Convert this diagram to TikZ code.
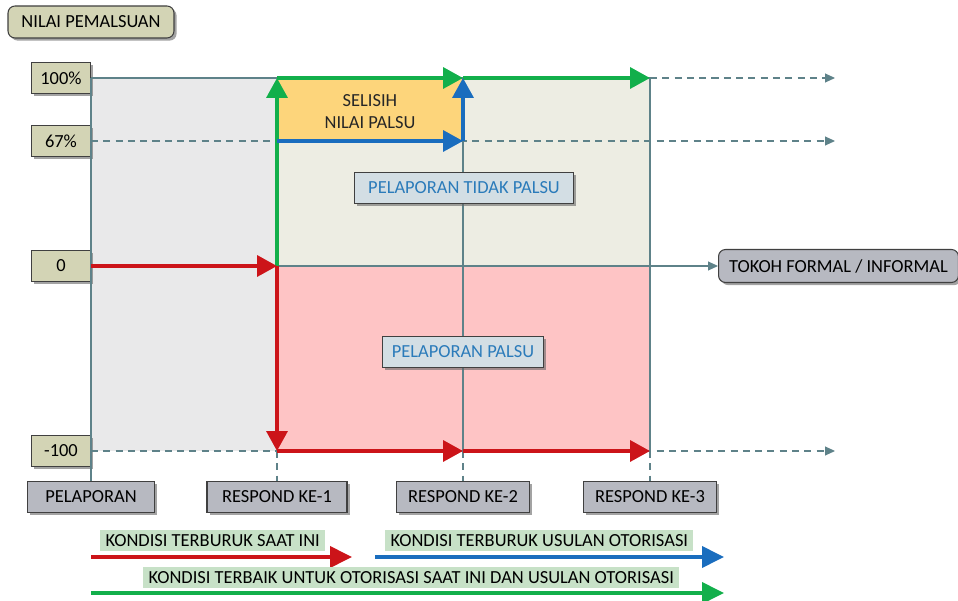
\documentclass[tikz,border=0pt]{standalone}
\usepackage{fontspec}
\setmainfont{Carlito}
\usetikzlibrary{arrows.meta, shadows}

\definecolor{olivebox}{HTML}{D3D4B5}
\definecolor{greybox}{HTML}{B7B9C1}
\definecolor{infobox}{HTML}{D3DEE4}
\definecolor{infotext}{HTML}{2B7BBA}
\definecolor{gridgrey}{HTML}{5E8289}
\definecolor{zonegrey}{HTML}{E9E9EA}
\definecolor{zonebeige}{HTML}{EDEDE3}
\definecolor{zoneorange}{HTML}{FDD57B}
\definecolor{zonepink}{HTML}{FEC4C5}
\definecolor{redline}{HTML}{CC1419}
\definecolor{greenline}{HTML}{12AF4B}
\definecolor{blueline}{HTML}{1A6DBE}
\definecolor{legendfill}{HTML}{C7E1C7}

\begin{document}
\begin{tikzpicture}[x=0.02cm, y=-0.02cm, font=\fontsize{10.5}{12.5}\selectfont,
    box/.style={draw=black!75, line width=0.6pt, inner sep=0pt, minimum height=0.63cm,
        drop shadow={shadow xshift=1.5pt, shadow yshift=-1.5pt, fill=black!60, opacity=0.6}},
    valuebox/.style={box, fill=olivebox, minimum width=1.18cm},
    stagebox/.style={box, fill=greybox},
    zonelabel/.style={box, fill=infobox, text=infotext},
    gridline/.style={draw=gridgrey, line width=0.6pt},
    griddash/.style={gridline, dash pattern=on 4pt off 3pt},
    gridtip/.style={-{Triangle[length=0.2cm, width=0.18cm]}},
    flow/.style={line width=2pt, -{Triangle[length=0.4cm, width=0.42cm]}},
    legendflow/.style={line width=2.2pt, -{Triangle[length=0.44cm, width=0.42cm]}},
    legendtext/.style={fill=legendfill, inner xsep=3pt, inner ysep=0pt, minimum height=0.42cm},
]
    \useasboundingbox (0,0) rectangle (958,601);

    % zones
    \fill[zonegrey] (91,78) rectangle (277,451);
    \fill[zonebeige] (277,78) rectangle (650,266);
    \fill[zoneorange] (277,78) rectangle (463,141);
    \fill[zonepink] (277,266) rectangle (650,451);

    % points of the chart
    \coordinate (s0top) at (91,78);
    \coordinate (s1top) at (277,78);
    \coordinate (s1mid) at (277,141);
    \coordinate (s1zero) at (277,266);
    \coordinate (s1bot) at (277,451);
    \coordinate (s2top) at (463,78);
    \coordinate (s2mid) at (463,141);
    \coordinate (s2bot) at (463,451);
    \coordinate (s3top) at (650,78);
    \coordinate (s3bot) at (650,451);
    \coordinate (e100) at (835,78);
    \coordinate (e67) at (835,141);
    \coordinate (em100) at (835,451);

    % boxes
    \node[box, fill=olivebox, rounded corners=4pt, minimum width=3.32cm, minimum height=0.64cm] (title) at (91,22) {NILAI PEMALSUAN};

    \node[valuebox, anchor=east] (v100) at (91,78) {100\%};
    \node[valuebox, anchor=east] (v67) at (91,141) {67\%};
    \node[valuebox, anchor=east] (v0) at (91,266) {0};
    \node[valuebox, anchor=east] (vm100) at (91,451) {-100};

    \node[stagebox, minimum width=2.54cm] (pelaporan) at (91,497) {PELAPORAN};
    \node[stagebox, minimum width=2.8cm] (resp1) at (277,497) {RESPOND KE-1};
    \node[stagebox, minimum width=2.66cm] (resp2) at (463,497) {RESPOND KE-2};
    \node[stagebox, minimum width=2.66cm] (resp3) at (650,497) {RESPOND KE-3};

    \node[box, fill=greybox, rounded corners=4pt, anchor=west, minimum width=4.8cm, minimum height=0.66cm] (tokoh) at (718,266) {TOKOH FORMAL / INFORMAL};

    % grid lines
    \draw[gridline] (v100.east) -- (s3top);
    \draw[griddash, gridtip] (s3top) -- (e100);
    \draw[griddash, gridtip] (v67.east) -- (e67);
    \draw[gridline, gridtip] (v0.east) -- (tokoh.west);
    \draw[griddash, gridtip] (vm100.east) -- (em100);

    \draw[gridline] (s0top) -- (pelaporan.north);
    \draw[gridline] (s2top) -- (s2bot);
    \draw[gridline] (s3top) -- (s3bot);
    \draw[griddash] (s1bot) -- (resp1.north);
    \draw[griddash] (s2bot) -- (resp2.north);
    \draw[griddash] (s3bot) -- (resp3.north);

    % zone labels
    \node[align=center, text=black!85] (selisih) at (370,112) {SELISIH\\NILAI PALSU};
    \node[zonelabel, minimum width=4.38cm] (tidakpalsu) at (464,188) {PELAPORAN TIDAK PALSU};
    \node[zonelabel, minimum width=3.22cm] (palsu) at (463,352) {PELAPORAN PALSU};

    % paths
    \draw[flow, greenline] (s1zero) -- (s1top);
    \draw[flow, greenline] (s1top) -- (s2top);
    \draw[flow, greenline] (s2top) -- (s3top);
    \draw[flow, blueline] (s1mid) -- (s2mid);
    \draw[flow, blueline] (s2mid) -- (s2top);
    \draw[flow, redline] (v0.east) -- (s1zero);
    \draw[flow, redline] (s1zero) -- (s1bot);
    \draw[flow, redline] (s1bot) -- (s2bot);
    \draw[flow, redline] (s2bot) -- (s3bot);

    % legend
    \coordinate (lr0) at (91,557);
    \coordinate (lr1) at (352,557);
    \coordinate (lb0) at (375,557);
    \coordinate (lb1) at (724,557);
    \coordinate (lg0) at (91,593);
    \coordinate (lg1) at (724,593);
    \draw[legendflow, redline] (lr0) -- (lr1);
    \draw[legendflow, blueline] (lb0) -- (lb1);
    \draw[legendflow, greenline] (lg0) -- (lg1);
    \node[legendtext, anchor=south west] (lgred) at (100,551) {KONDISI TERBURUK SAAT INI};
    \node[legendtext, anchor=south west] (lgblue) at (385,551) {KONDISI TERBURUK USULAN OTORISASI};
    \node[legendtext, anchor=south west] (lggreen) at (143,588) {KONDISI TERBAIK UNTUK OTORISASI SAAT INI DAN USULAN OTORISASI};
\end{tikzpicture}
\end{document}
